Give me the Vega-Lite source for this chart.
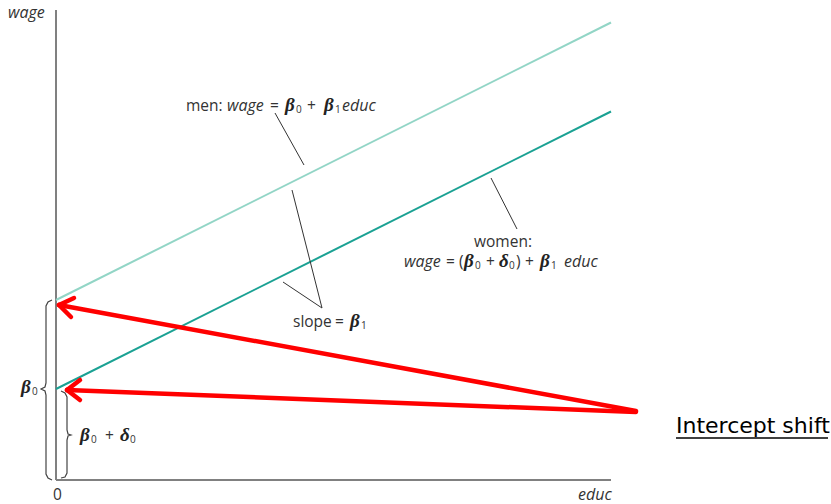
{
  "$schema": "https://vega.github.io/schema/vega-lite/v6.json",
  "width": 831,
  "height": 504,
  "autosize": "none",
  "padding": 0,
  "background": "white",
  "config": {"view": {"stroke": null}},
  "datasets": {
    "axes": [
      {"x": 0, "y": 0, "x2": 0, "y2": 9.4},
      {"x": 0, "y": 0, "x2": 11.1, "y2": 0}
    ],
    "lines": [
      {"group": "men", "x": 0, "y": 3.6},
      {"group": "men", "x": 11.1, "y": 9.15},
      {"group": "women", "x": 0, "y": 1.82},
      {"group": "women", "x": 11.1, "y": 7.37}
    ],
    "leaders": [
      {"x": 4.38, "y": 7.34, "x2": 4.96, "y2": 6.3},
      {"x": 4.72, "y": 5.8, "x2": 5.32, "y2": 3.44},
      {"x": 4.54, "y": 3.96, "x2": 5.32, "y2": 3.44},
      {"x": 8.7, "y": 6.04, "x2": 9.22, "y2": 5.02}
    ],
    "braces": [
      {"brace": "b0", "step": 1, "x": -0.08, "y": 3.6},
      {"brace": "b0", "step": 2, "x": -0.16, "y": 3.56},
      {"brace": "b0", "step": 3, "x": -0.2, "y": 3.48},
      {"brace": "b0", "step": 4, "x": -0.2, "y": 1.94},
      {"brace": "b0", "step": 5, "x": -0.22, "y": 1.86},
      {"brace": "b0", "step": 6, "x": -0.3, "y": 1.82},
      {"brace": "b0", "step": 7, "x": -0.22, "y": 1.78},
      {"brace": "b0", "step": 8, "x": -0.2, "y": 1.7},
      {"brace": "b0", "step": 9, "x": -0.2, "y": 0.12},
      {"brace": "b0", "step": 10, "x": -0.16, "y": 0.04},
      {"brace": "b0", "step": 11, "x": -0.08, "y": 0.0},
      {"brace": "b0d0", "step": 1, "x": 0.1, "y": 1.78},
      {"brace": "b0d0", "step": 2, "x": 0.18, "y": 1.74},
      {"brace": "b0d0", "step": 3, "x": 0.22, "y": 1.66},
      {"brace": "b0d0", "step": 4, "x": 0.22, "y": 1.0},
      {"brace": "b0d0", "step": 5, "x": 0.24, "y": 0.92},
      {"brace": "b0d0", "step": 6, "x": 0.3, "y": 0.9},
      {"brace": "b0d0", "step": 7, "x": 0.24, "y": 0.88},
      {"brace": "b0d0", "step": 8, "x": 0.22, "y": 0.8},
      {"brace": "b0d0", "step": 9, "x": 0.22, "y": 0.14},
      {"brace": "b0d0", "step": 10, "x": 0.18, "y": 0.06},
      {"brace": "b0d0", "step": 11, "x": 0.1, "y": 0.04}
    ],
    "arrows": [
      {"x": 11.6, "y": 1.38, "x2": 0.06, "y2": 3.5},
      {"x": 0.06, "y": 3.5, "x2": 0.3, "y2": 3.26},
      {"x": 0.06, "y": 3.5, "x2": 0.36, "y2": 3.64},
      {"x": 11.6, "y": 1.36, "x2": 0.22, "y2": 1.8},
      {"x": 0.22, "y": 1.8, "x2": 0.48, "y2": 1.6},
      {"x": 0.22, "y": 1.8, "x2": 0.48, "y2": 2.0}
    ],
    "plain": [
      {"x": 2.6, "y": 7.38, "t": "men:"},
      {"x": 4.28, "y": 7.38, "t": "="},
      {"x": 5.02, "y": 7.38, "t": "+"},
      {"x": 8.36, "y": 4.66, "t": "women:"},
      {"x": 7.8, "y": 4.26, "t": "="},
      {"x": 8.06, "y": 4.26, "t": "("},
      {"x": 8.6, "y": 4.26, "t": "+"},
      {"x": 9.2, "y": 4.26, "t": ")"},
      {"x": 9.38, "y": 4.26, "t": "+"},
      {"x": 4.74, "y": 3.06, "t": "slope"},
      {"x": 5.58, "y": 3.06, "t": "="},
      {"x": 0.98, "y": 0.78, "t": "+"},
      {"x": -0.06, "y": -0.4, "t": "0"}
    ],
    "italic": [
      {"x": 3.42, "y": 7.38, "t": "wage"},
      {"x": 5.72, "y": 7.38, "t": "educ"},
      {"x": 6.96, "y": 4.26, "t": "wage"},
      {"x": 10.16, "y": 4.26, "t": "educ"},
      {"x": -0.96, "y": 9.24, "t": "wage"},
      {"x": 10.44, "y": -0.4, "t": "educ"}
    ],
    "greek": [
      {"x": 4.58, "y": 7.38, "t": "β"},
      {"x": 5.36, "y": 7.38, "t": "β"},
      {"x": 8.16, "y": 4.26, "t": "β"},
      {"x": 8.86, "y": 4.26, "t": "δ"},
      {"x": 9.68, "y": 4.26, "t": "β"},
      {"x": 5.88, "y": 3.06, "t": "β"},
      {"x": -0.7, "y": 1.74, "t": "β"},
      {"x": 0.48, "y": 0.78, "t": "β"},
      {"x": 1.28, "y": 0.78, "t": "δ"}
    ],
    "subs": [
      {"x": 4.8, "y": 7.34, "t": "0"},
      {"x": 5.58, "y": 7.34, "t": "1"},
      {"x": 8.38, "y": 4.22, "t": "0"},
      {"x": 9.06, "y": 4.22, "t": "0"},
      {"x": 9.9, "y": 4.22, "t": "1"},
      {"x": 6.1, "y": 3.02, "t": "1"},
      {"x": -0.48, "y": 1.7, "t": "0"},
      {"x": 0.7, "y": 0.74, "t": "0"},
      {"x": 1.48, "y": 0.74, "t": "0"}
    ],
    "callout": [
      {"x": 12.4, "y": 0.94, "t": "Intercept shift"}
    ],
    "underline": [
      {"x": 12.4, "y": 0.84, "x2": 15.44, "y2": 0.84}
    ]
  },
  "encoding": {
    "x": {"field": "x", "type": "quantitative", "scale": {"domain": [-1.12, 15.5], "nice": false, "zero": false}, "axis": null},
    "y": {"field": "y", "type": "quantitative", "scale": {"domain": [-0.48, 9.6], "nice": false, "zero": false}, "axis": null}
  },
  "layer": [
    {
      "data": {"name": "axes"},
      "mark": {"type": "rule", "color": "#808080", "strokeWidth": 2},
      "encoding": {"x2": {"field": "x2"}, "y2": {"field": "y2"}}
    },
    {
      "data": {"name": "lines"},
      "mark": {"type": "line", "strokeWidth": 2},
      "encoding": {
        "color": {"field": "group", "type": "nominal", "scale": {"domain": ["men", "women"], "range": ["#92d5c6", "#1aa193"]}, "legend": null},
        "order": {"field": "x", "type": "quantitative"}
      }
    },
    {
      "data": {"name": "leaders"},
      "mark": {"type": "rule", "color": "#333333", "strokeWidth": 1},
      "encoding": {"x2": {"field": "x2"}, "y2": {"field": "y2"}}
    },
    {
      "data": {"name": "braces"},
      "mark": {"type": "line", "color": "#444444", "strokeWidth": 1.2, "interpolate": "linear"},
      "encoding": {
        "detail": {"field": "brace", "type": "nominal"},
        "order": {"field": "step", "type": "quantitative"}
      }
    },
    {
      "data": {"name": "arrows"},
      "mark": {"type": "rule", "color": "#ff0000", "strokeWidth": 4.5, "strokeCap": "round"},
      "encoding": {"x2": {"field": "x2"}, "y2": {"field": "y2"}}
    },
    {
      "data": {"name": "plain"},
      "mark": {"type": "text", "align": "left", "baseline": "alphabetic", "font": "Open Sans", "fontSize": 15.5, "color": "#333333"},
      "encoding": {"text": {"field": "t"}}
    },
    {
      "data": {"name": "italic"},
      "mark": {"type": "text", "align": "left", "baseline": "alphabetic", "font": "Open Sans", "fontStyle": "italic", "fontSize": 16, "color": "#333333"},
      "encoding": {"text": {"field": "t"}}
    },
    {
      "data": {"name": "greek"},
      "mark": {"type": "text", "align": "left", "baseline": "alphabetic", "font": "Liberation Serif", "fontStyle": "italic", "fontWeight": "bold", "fontSize": 19, "color": "#222222"},
      "encoding": {"text": {"field": "t"}}
    },
    {
      "data": {"name": "subs"},
      "mark": {"type": "text", "align": "left", "baseline": "alphabetic", "font": "Open Sans", "fontSize": 10, "color": "#333333"},
      "encoding": {"text": {"field": "t"}}
    },
    {
      "data": {"name": "callout"},
      "mark": {"type": "text", "align": "left", "baseline": "alphabetic", "font": "DejaVu Sans", "fontSize": 22, "color": "#000000"},
      "encoding": {"text": {"field": "t"}}
    },
    {
      "data": {"name": "underline"},
      "mark": {"type": "rule", "color": "#000000", "strokeWidth": 1.5},
      "encoding": {"x2": {"field": "x2"}, "y2": {"field": "y2"}}
    }
  ]
}
